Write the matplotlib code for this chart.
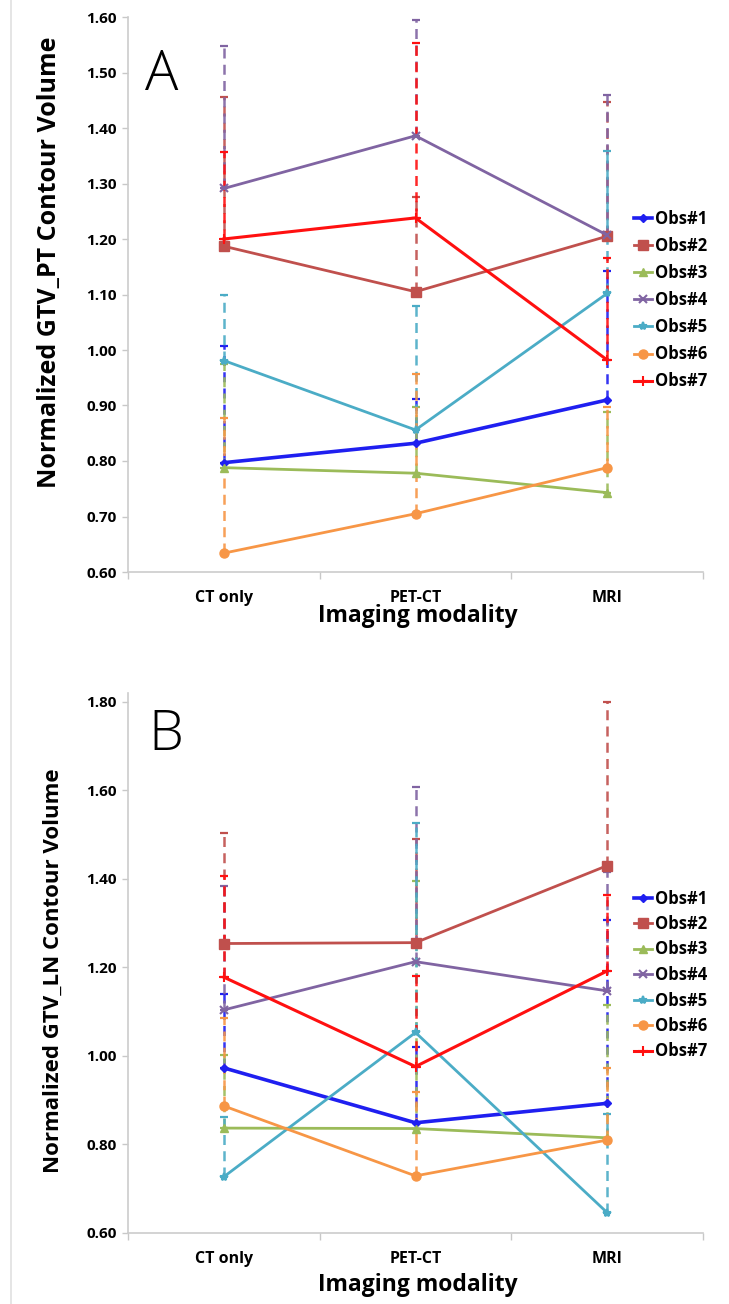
import numpy as np
import matplotlib
matplotlib.use("Agg")
import matplotlib.pyplot as plt
from matplotlib.lines import Line2D

plt.rcParams['font.family'] = ['Open Sans', 'DejaVu Sans']

categories = ["CT only", "PET-CT", "MRI"]
series_names = ["Obs#1", "Obs#2", "Obs#3", "Obs#4", "Obs#5", "Obs#6", "Obs#7"]

# Panel A: GTV_PT (means, and upper error bar ends)
a_obs1 = [0.797, 0.832, 0.910]
a_obs2 = [1.187, 1.105, 1.205]
a_obs3 = [0.788, 0.778, 0.743]
a_obs4 = [1.291, 1.386, 1.207]
a_obs5 = [0.981, 0.856, 1.102]
a_obs6 = [0.634, 0.705, 0.788]
a_obs7 = [1.200, 1.238, 0.982]
a_top1 = [1.008, 0.911, 1.142]
a_top2 = [1.455, 1.275, 1.446]
a_top3 = [0.975, 0.898, 0.889]
a_top4 = [1.547, 1.595, 1.459]
a_top5 = [1.100, 1.079, 1.359]
a_top6 = [0.878, 0.956, 0.898]
a_top7 = [1.356, 1.553, 1.166]

# Panel B: GTV_LN
b_obs1 = [0.973, 0.849, 0.893]
b_obs2 = [1.254, 1.256, 1.430]
b_obs3 = [0.837, 0.836, 0.815]
b_obs4 = [1.104, 1.213, 1.147]
b_obs5 = [0.727, 1.053, 0.646]
b_obs6 = [0.887, 0.729, 0.810]
b_obs7 = [1.178, 0.976, 1.192]
b_top1 = [1.140, 1.020, 1.308]
b_top2 = [1.504, 1.490, 1.800]
b_top3 = [1.002, 1.395, 1.115]
b_top4 = [1.383, 1.608, 1.416]
b_top5 = [0.862, 1.527, 0.868]
b_top6 = [1.086, 0.918, 0.973]
b_top7 = [1.407, 1.180, 1.364]

colors = ["#1F1FF0", "#C0504D", "#9BBB59", "#8064A2", "#4BACC6", "#F79646", "#FF1010"]
markers = ["D", "s", "^", "x", "*", "o", "+"]
msizes = [4.5, 6.5, 5.5, 6, 6, 6.5, 7]
lwidths = [2.6, 2.0, 2.0, 2.0, 2.0, 2.0, 2.2]

W, H = 729, 1304
fig = plt.figure(figsize=(W / 100, H / 100), dpi=100)


def fx(x):
    return x / W


def fy(y):
    return 1 - y / H


def panel(rect, means, tops, ylim, yticks, ylabel, ylabel_size, letter, letter_xy,
          ylabel_xy, xlabel_y, legend_y, lspacing):
    ax = fig.add_axes(rect)
    x = np.arange(len(categories))
    for i in range(len(means)):
        m = np.array(means[i])
        t = np.array(tops[i])
        eb = ax.errorbar(x, m, yerr=[np.zeros_like(m), t - m], fmt='none',
                         ecolor=colors[i], elinewidth=1.8, capsize=3.0,
                         capthick=1.6, zorder=2)
        for lc in eb[2]:
            lc.set_linestyle((0, (4, 2.5)))
            lc.set_alpha(0.9)
    for i in range(len(means)):
        mk = markers[i]
        ax.plot(x, means[i], color=colors[i], lw=lwidths[i], marker=mk,
                ms=msizes[i], mew=1.5 if mk in "x+*" else 1.0,
                mec=colors[i], mfc=colors[i], zorder=3)
    ax.set_xlim(-0.5, 2.5)
    ax.set_ylim(*ylim)
    ax.set_yticks(yticks)
    ax.set_yticklabels(["%.2f" % v for v in yticks], fontsize=11, fontweight='bold')
    ax.set_xticks([-0.5, 0.5, 1.5, 2.5])
    ax.set_xticklabels([])
    ax.set_xticks(x, minor=True)
    ax.set_xticklabels(categories, minor=True, fontsize=11.5, fontweight='bold')
    ax.tick_params(axis='x', which='minor', length=0, pad=13)
    ax.tick_params(axis='x', which='major', length=5, color='#C8C8C8', width=1)
    ax.tick_params(axis='y', length=4, color='#C8C8C8', width=1, pad=4)
    for s in ['top', 'right']:
        ax.spines[s].set_visible(False)
    for s in ['left', 'bottom']:
        ax.spines[s].set_color('#CCCCCC')
        ax.spines[s].set_linewidth(1.2)
    fig.text(fx(418), fy(xlabel_y), "Imaging modality", ha='center', va='center',
             fontsize=16.5, fontweight='bold')
    fig.text(fx(ylabel_xy[0]), fy(ylabel_xy[1]), ylabel, rotation=90, ha='center',
             va='center', fontsize=ylabel_size, fontweight='bold')
    fig.text(fx(letter_xy[0]), fy(letter_xy[1]), letter, ha='left', va='center',
             fontsize=40, fontweight='light')
    handles = [Line2D([0], [0], color=colors[i], lw=lwidths[i], marker=markers[i],
                      ms=msizes[i], mew=1.5 if markers[i] in "x+*" else 1.0)
               for i in range(len(means))]
    fig.legend(handles, series_names, loc='center left',
               bbox_to_anchor=(fx(634), fy(legend_y)), frameon=False,
               handlelength=1.1, handletextpad=0.15, borderpad=0,
               borderaxespad=0, labelspacing=lspacing,
               prop={'size': 12, 'weight': 'bold'})
    return ax


panel([fx(128), fy(572), fx(703) - fx(128), (572 - 17) / H],
      [a_obs1, a_obs2, a_obs3, a_obs4, a_obs5, a_obs6, a_obs7],
      [a_top1, a_top2, a_top3, a_top4, a_top5, a_top6, a_top7],
      (0.60, 1.60), np.round(np.arange(0.60, 1.601, 0.10), 2),
      "Normalized GTV_PT Contour Volume", 18, "A", (145, 75), (50, 262), 616, 300, 0.55)

panel([fx(128), fy(1233), fx(703) - fx(128), (1233 - 693) / H],
      [b_obs1, b_obs2, b_obs3, b_obs4, b_obs5, b_obs6, b_obs7],
      [b_top1, b_top2, b_top3, b_top4, b_top5, b_top6, b_top7],
      (0.60, 1.82), np.round(np.arange(0.60, 1.801, 0.20), 2),
      "Normalized GTV_LN Contour Volume", 16, "B", (148, 736), (53, 971), 1285, 975, 0.45)

fig.add_artist(Line2D([fx(11), fx(11)], [0, 1], color='#E0E0E0', lw=1.2))

fig.savefig("out.png", dpi=100)
